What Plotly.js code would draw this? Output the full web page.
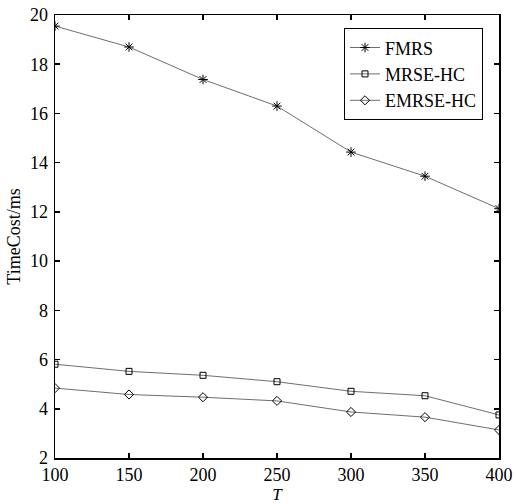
<!DOCTYPE html>
<html><head><meta charset="utf-8">
<script src="https://cdn.plot.ly/plotly-3.0.1.min.js"></script>
<style>body{margin:0;padding:0;background:#fff}#chart{width:516px;height:504px}</style>
</head><body><div id="chart"></div>
<script>
const T = [100, 150, 200, 250, 300, 350, 400];
const fmrs = [19.55, 18.70, 17.38, 16.30, 14.43, 13.45, 12.13];
const mrseHC = [5.81, 5.52, 5.36, 5.10, 4.71, 4.53, 3.75];
const emrseHC = [4.84, 4.58, 4.47, 4.32, 3.87, 3.66, 3.14];
const yTicks = [2, 4, 6, 8, 10, 12, 14, 16, 18, 20];
const xTicks = [100, 150, 200, 250, 300, 350, 400];

const font = 'Liberation Serif, Times New Roman, serif';
function tr(name, y, sym, size) {
  return {x: T, y: y, name: name, type: 'scatter', mode: 'lines+markers',
    line: {color: '#6e6e6e', width: 1},
    marker: {symbol: sym, size: size, color: '#000', line: {color: '#000', width: 1}}};
}
const data = [
  tr('FMRS', fmrs, 'asterisk-open', 8),
  tr('MRSE-HC', mrseHC, 'square-open', 6),
  tr('EMRSE-HC', emrseHC, 'diamond-open', 7)
];
const axisCommon = {showgrid: false, zeroline: false, showline: true, linecolor: '#000', linewidth: 1.5,
  mirror: 'ticks', ticks: 'inside', ticklen: 5, tickwidth: 1.5, tickcolor: '#000',
  tickfont: {family: font, size: 18, color: '#000'}, automargin: false};
const layout = {
  width: 516, height: 504,
  margin: {l: 55, r: 17, t: 15, b: 46},
  paper_bgcolor: '#fff', plot_bgcolor: '#fff',
  font: {family: font, color: '#000'},
  showlegend: true,
  legend: {x: 1.0 - 16/444, y: 0.97, xanchor: 'right', yanchor: 'top', bgcolor: '#fff', bordercolor: '#000', borderwidth: 1,
    font: {family: font, size: 18, color: '#000'}, itemwidth: 30, tracegroupgap: 0},
  xaxis: Object.assign({}, axisCommon, {range: [100, 400], tickvals: xTicks, ticktext: xTicks.map(String),
    title: {text: '<i>T</i>', font: {family: font, size: 17, color: '#000'}, standoff: 2}}),
  yaxis: Object.assign({}, axisCommon, {range: [2, 20], tickvals: yTicks, ticktext: yTicks.map(String),
    ticklabelstandoff: 2,
    title: {text: 'TimeCost/ms', font: {family: font, size: 18, color: '#000'}, standoff: 4}})
};
Plotly.newPlot('chart', data, layout, {displayModeBar: false, staticPlot: true});
</script></body></html>
